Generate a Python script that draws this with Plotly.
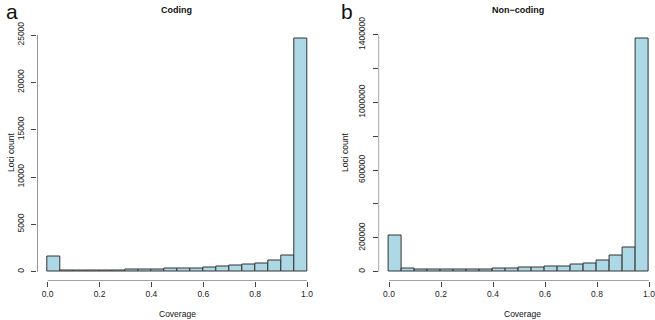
import plotly.graph_objects as go

# ---- data ----
bin_edges = [round(0.05 * i, 2) for i in range(21)]
coding_counts = [1650, 90, 110, 140, 150, 170, 200, 230, 280, 310,
                 340, 380, 480, 520, 640, 760, 900, 1200, 1740, 24600]
noncoding_counts = [212000, 19000, 14000, 10500, 10500, 12000, 13500, 15000, 17500, 19500,
                    22000, 26000, 29000, 33500, 41500, 51000, 69000, 95000, 144000, 1376000]
x_ticks = [0.0, 0.2, 0.4, 0.6, 0.8, 1.0]
coding_yticks = [0, 5000, 10000, 15000, 20000, 25000]
noncoding_yticks = [0, 200000, 400000, 600000, 800000, 1000000, 1200000, 1400000]
noncoding_ytext = ["0", "200000", "", "600000", "", "1000000", "", "1400000"]

W, H = 655, 320
FONT = "Liberation Sans, Arial, sans-serif"
AX = "#444444"

centers = [(bin_edges[i] + bin_edges[i + 1]) / 2 for i in range(len(bin_edges) - 1)]
widths = [bin_edges[i + 1] - bin_edges[i] for i in range(len(bin_edges) - 1)]

fig = go.Figure()
for counts, xa, ya in [(coding_counts, "x", "y"), (noncoding_counts, "x2", "y2")]:
    fig.add_trace(go.Bar(
        x=centers, y=counts, width=widths, xaxis=xa, yaxis=ya,
        marker=dict(color="#ADD8E6", line=dict(color="#333333", width=1)),
        showlegend=False, hoverinfo="x+y"))

def px(x):
    return x / W

def py(y):
    return 1 - y / H

ydom = [py(281), py(29.5)]
tickfont = dict(family=FONT, size=8.5, color="#222222")

common_x = dict(tickvals=x_ticks, tickformat=".1f", ticks="outside", ticklen=5,
                tickcolor=AX, showgrid=False, zeroline=False, showline=False,
                tickfont=tickfont, automargin=False, ticklabeloverflow="allow")
common_y = dict(ticks="outside", ticklen=5, tickcolor=AX, showgrid=False, zeroline=False,
                showline=False, tickangle=-90, tickfont=tickfont, automargin=False,
                ticklabelstandoff=4)

cmax = max(coding_counts)
nmax = max(noncoding_counts)

fig.update_layout(
    width=W, height=H, margin=dict(l=0, r=0, t=0, b=0, autoexpand=False),
    paper_bgcolor="white", plot_bgcolor="white", bargap=0,
    xaxis=dict(domain=[px(37.3), px(317.4)], range=[-0.04, 1.04], anchor="y", **common_x),
    yaxis=dict(domain=ydom, range=[-0.04 * cmax, 1.04 * cmax], anchor="x",
               tickvals=coding_yticks, ticktext=[str(v) for v in coding_yticks], **common_y),
    xaxis2=dict(domain=[px(378.6), 1.0], range=[-0.04, (655 - 389) / 260], anchor="y2", **common_x),
    yaxis2=dict(domain=ydom, range=[-0.04 * nmax, 1.04 * nmax], anchor="x2",
                tickvals=noncoding_yticks, ticktext=noncoding_ytext, **common_y),
)

shapes = []
for xa, ya, ymin, yt in [("x", "y", -0.04 * cmax, coding_yticks), ("x2", "y2", -0.04 * nmax, noncoding_yticks)]:
    shapes.append(dict(type="line", xref=xa, yref=ya, x0=x_ticks[0], x1=x_ticks[-1], y0=ymin, y1=ymin,
                       line=dict(color=AX, width=1)))
    shapes.append(dict(type="line", xref=xa, yref=ya, x0=-0.04, x1=-0.04, y0=yt[0], y1=yt[-1],
                       line=dict(color=AX, width=1)))
fig.update_layout(shapes=shapes)

ann = []
def text(t, x, y, size, bold=False, angle=0):
    ann.append(dict(text=f"<b>{t}</b>" if bold else t, x=px(x), y=py(y), xref="paper", yref="paper",
                    showarrow=False, textangle=angle, xanchor="center", yanchor="middle",
                    font=dict(family=FONT, size=size, color="#111111")))

text("a", 12, 11, 21)
text("b", 347, 11, 21)
text("Coding", 177, 10, 9, bold=True)
text("Non\u2212coding", 518, 10, 9, bold=True)
text("Coverage", 177.5, 314, 8.5)
text("Coverage", 522, 314, 8.5)
text("Loci count", 11, 153, 8.5, angle=-90)
text("Loci count", 345, 153, 8.5, angle=-90)
fig.update_layout(annotations=ann)

fig.write_html("out.html", config={"displayModeBar": False},
               post_script="document.body.style.margin='0';document.body.style.overflow='hidden';")
